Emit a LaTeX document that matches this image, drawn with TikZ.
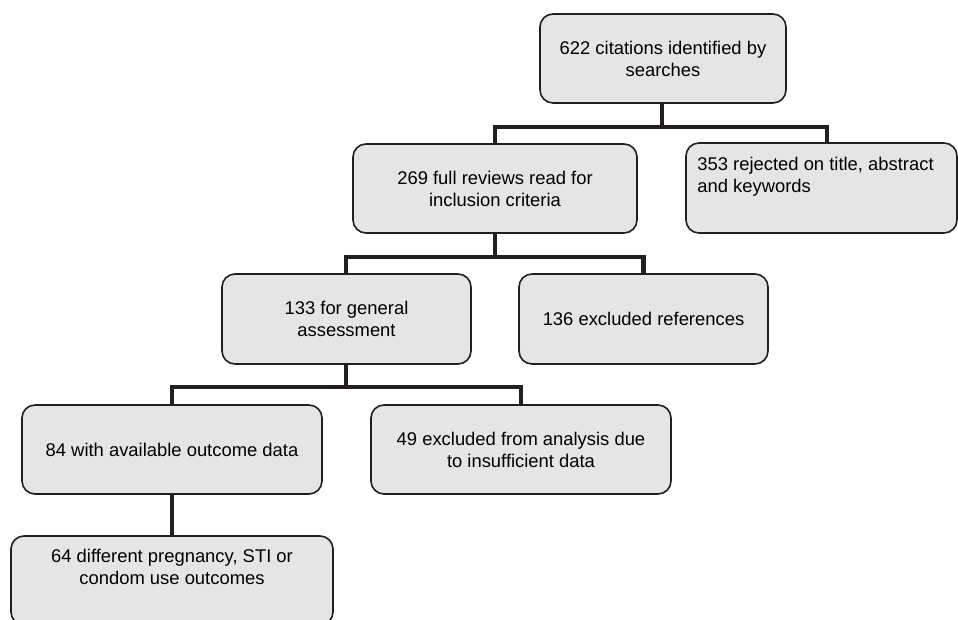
\documentclass[tikz,border=0pt]{standalone}
\usepackage{fontspec}
\setmainfont{Liberation Sans}
\usetikzlibrary{positioning,calc}

\definecolor{boxgray}{RGB}{228,229,231}
\definecolor{inkdark}{RGB}{35,31,32}

\tikzset{
  stagebox/.style={draw=inkdark, line width=1.6pt, fill=boxgray, rounded corners=13pt,
    align=center, inner sep=0pt, font=\fontsize{18.4}{22}\selectfont},
  stagetext/.style={inner sep=0pt, font=\fontsize{18.4}{22}\selectfont},
  flowline/.style={draw=inkdark, line width=4.2pt}
}

\begin{document}
\begin{tikzpicture}[x=1pt,y=-1pt]
                    \useasboundingbox (0,0) rectangle (958,619);
                    \clip (0,0) rectangle (958,619);

                    % junction points of the tree
                    \coordinate (j1) at (662,127);
                    \coordinate (j2) at (495,257);
                    \coordinate (j3) at (346,387);

                    \node[stagebox, minimum width=246pt, minimum height=89pt] (cit) at (663,58.5) {622 citations identified by\\searches};
                    \node[stagebox, minimum width=284pt, minimum height=89pt] (full) at (495,188.5) {269 full reviews read for\\inclusion criteria};
                    \node[stagebox, minimum width=271pt, minimum height=90pt] (rej) at (821.5,188) {};
                    \node[stagebox, minimum width=249pt, minimum height=90pt] (gen) at (346.5,319) {133 for general\\assessment};
                    \node[stagebox, minimum width=249pt, minimum height=90pt] (excl) at (643.5,319) {136 excluded references};
                    \node[stagebox, minimum width=300pt, minimum height=89pt] (avail) at (172,449.5) {84 with available outcome data};
                    \node[stagebox, minimum width=300pt, minimum height=89pt] (insuf) at (521,449.5) {49 excluded from analysis due\\to insufficient data};
                    \node[stagebox, minimum width=322pt, minimum height=89pt] (outc) at (172,580.5) {};

                    \node[stagetext, align=left, anchor=west] (rejtext) at ($(rej.north west)+(12,34.5)$) {353 rejected on title, abstract\\and keywords};
                    \node[stagetext, align=center] (outctext) at ($(outc.north)+(0,31.5)$) {64 different pregnancy, STI or\\condom use outcomes};

                    % connectors
                    \draw[flowline] (cit.south -| j1) -- (j1);
                    \draw[flowline] (full.north) |- (j1) -| ([xshift=5.5pt]rej.north);
                    \draw[flowline] (full.south) -- (j2);
                    \draw[flowline] (gen.north -| j3) |- (j2) -| (excl.north);
                    \draw[flowline] (gen.south -| j3) -- (j3);
                    \draw[flowline] ([xshift=0pt]avail.north) |- (j3) -| (insuf.north);
                    \draw[flowline] (avail.south) -- (outc.north);
                \end{tikzpicture}
\end{document}
